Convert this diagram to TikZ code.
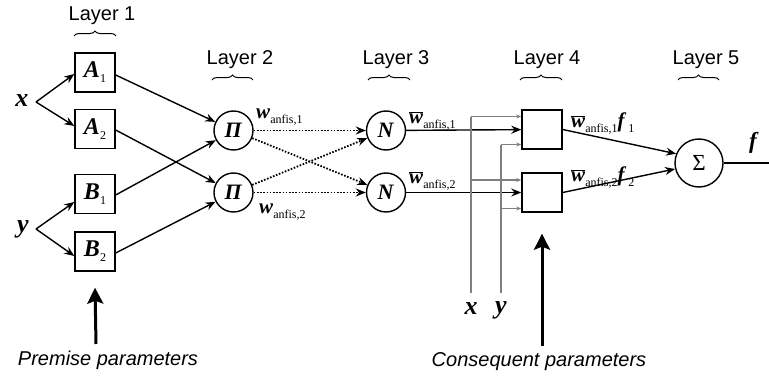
\documentclass[tikz,border=0pt]{standalone}
\usepackage{fontspec}
\setmainfont{Liberation Serif}
\setsansfont{Liberation Sans}
\usetikzlibrary{arrows.meta,decorations.pathreplacing}

% bold italic variable, lowered index and bar-topped weight
\newcommand{\bvar}[1]{\textbf{\textit{#1}}}
\newcommand{\sbs}[1]{\raisebox{-5pt}{\fontsize{12}{12}\selectfont #1}}
\newcommand{\wbar}{$\overline{\mbox{\bvar{w}}}$}

\begin{document}
\begin{tikzpicture}[x=1pt,y=-1pt,
  lay/.style={font=\sffamily\fontsize{20}{20}\selectfont},
  note/.style={font=\sffamily\itshape\fontsize{20}{20}\selectfont},
  brc/.style={decorate,decoration={brace,amplitude=5pt},line width=1pt},
  mfbox/.style={draw,line width=1.4pt,minimum width=40pt,minimum height=39pt,inner sep=0pt,
                font=\fontsize{24}{24}\selectfont},
  rulebox/.style={draw,line width=1.4pt,minimum width=40pt,minimum height=39pt,inner sep=0pt},
  neuron/.style={draw,circle,line width=1.4pt,minimum size=39pt,inner sep=0pt,
                 font=\fontsize{22}{22}\selectfont},
  var/.style={font=\fontsize{26}{26}\selectfont,inner sep=0pt},
  lbl/.style={font=\fontsize{21}{21}\selectfont,inner sep=0pt},
  arr/.style={line width=1.4pt,-{Stealth[length=10pt,width=8pt]}},
  dot/.style={line width=1.8pt,dash pattern=on 1.6pt off 1.6pt,-{Stealth[length=10pt,width=8pt]}},
  gl/.style={line width=1.2pt,black!50,-{Stealth[length=5pt,width=4pt]}},
  gline/.style={line width=1.2pt,black!50},
  big/.style={line width=3pt,-{Stealth[length=16pt,width=16pt,inset=3pt]}}
]
\useasboundingbox (0,0) rectangle (769,380);

% layer titles and braces
\node[lay] (L1) at (102,16) {Layer 1};
\node[lay] (L2) at (240,60) {Layer 2};
\node[lay] (L3) at (396,60) {Layer 3};
\node[lay] (L4) at (547,60) {Layer 4};
\node[lay] (L5) at (706,60) {Layer 5};
\draw[brc] (74,36) -- (116,36);
\draw[brc] (212,80) -- (253,80);
\draw[brc] (368,80) -- (410,80);
\draw[brc] (520,80) -- (562,80);
\draw[brc] (678,80) -- (719,80);

% inputs
\node[var] (x) at (22,101) {\bvar{x}};
\node[var] (y) at (23,229) {\bvar{y}};
\coordinate (xf) at (36,102);
\coordinate (yf) at (36,229);

% layer 1: membership functions
\node[mfbox] (A1) at (95,72.5) {\bvar{A}\sbs{1}};
\node[mfbox] (A2) at (95,129) {\bvar{A}\sbs{2}};
\node[mfbox] (B1) at (95,194) {\bvar{B}\sbs{1}};
\node[mfbox] (B2) at (95,251.5) {\bvar{B}\sbs{2}};

% layer 2: product nodes
\node[neuron] (P1) at (233.5,130.5) {\bvar{Π}};
\node[neuron] (P2) at (233.5,192.5) {\bvar{Π}};

% layer 3: normalisation nodes
\node[neuron] (N1) at (386,130.5) {\bvar{N}};
\node[neuron] (N2) at (386,192.5) {\bvar{N}};

% layer 4: consequent nodes
\node[rulebox] (C1) at (542,129.5) {};
\node[rulebox] (C2) at (542,192.5) {};

% layer 5: sum
\node[neuron,minimum size=48pt,font=\fontsize{23}{23}\selectfont] (S) at (699,163) {Σ};
\coordinate (out) at (769,163);

% input fan-out
\draw[arr] (xf) -- ([yshift=-1.5pt]A1.west);
\draw[arr] (xf) -- ([yshift=3pt]A2.west);
\draw[arr] (yf) -- ([yshift=-8pt]B1.west);
\draw[arr] (yf) -- ([yshift=-4.5pt]B2.west);

% layer 1 -> layer 2
\draw[arr] ([yshift=-2.5pt]A1.east) -- (P1);
\draw[arr] ([yshift=-1pt]A2.east) -- (P2);
\draw[arr] ([yshift=-1pt]B1.east) -- (P1);
\draw[arr] ([yshift=-1.5pt]B2.east) -- (P2);

% layer 2 -> layer 3
\draw[dot] (P1) -- (N1);
\draw[dot] (P1) -- (N2);
\draw[dot] (P2) -- (N1);
\draw[dot] (P2) -- (N2);
\node[lbl,anchor=base west] (w1) at (256,118) {\bvar{w}\sbs{anfis,1}};
\node[lbl,anchor=base west] (w2) at (259,213) {\bvar{w}\sbs{anfis,2}};

% layer 3 -> layer 4
\draw[arr] (N1) -- (C1);
\draw[arr] (N2) -- (C2);
\node[lbl,anchor=base west] (wb1) at (409,123) {\wbar\sbs{anfis,1}};
\node[lbl,anchor=base west] (wb2) at (409,183) {\wbar\sbs{anfis,2}};

% x and y fed into layer 4
\node[var] (x2) at (471,309) {\bvar{x}};
\node[var] (y2) at (501,310) {\bvar{y}};
\coordinate (xb) at (471,293);
\coordinate (yb) at (501,293);
\coordinate (xt) at (471,116.5);
\coordinate (xm) at (471,180);
\coordinate (yt) at (501,144.5);
\coordinate (ym) at (501,208.5);
\draw[gline] (xb) -- (xt);
\draw[gline] (yb) -- (yt);
\draw[gl] (xt) -- ([yshift=13pt]C1.west);
\draw[gl] (xm) -- ([yshift=12.5pt]C2.west);
\draw[gl] (yt) -- ([yshift=-15pt]C1.west);
\draw[gl] (ym) -- ([yshift=-16pt]C2.west);

% layer 4 -> layer 5
\draw[arr] (C1.east) -- (S.158);
\draw[arr] (C2.east) -- (S.194);
\node[lbl,anchor=base west] (f1) at (571,127) {\wbar\sbs{anfis,1}\bvar{f}\sbs{\,1}};
\node[lbl,anchor=base west] (f2) at (571,181) {\wbar\sbs{anfis,2}\bvar{f}\sbs{\,2}};

% output
\draw[line width=1.4pt] (S) -- (out);
\node[lbl,font=\fontsize{23}{23}\selectfont] (f) at (754,143) {\bvar{f}};

% parameter annotations
\node[note] (prem) at (108,360) {Premise parameters};
\node[note] (cons) at (539,362) {Consequent parameters};
\coordinate (pt) at (96,344);
\coordinate (ct) at (542,346);
\draw[big] (pt) -- ([yshift=-16pt]B2.south);
\draw[big] (ct) -- ([yshift=-21pt]C2.south);
\end{tikzpicture}
\end{document}
